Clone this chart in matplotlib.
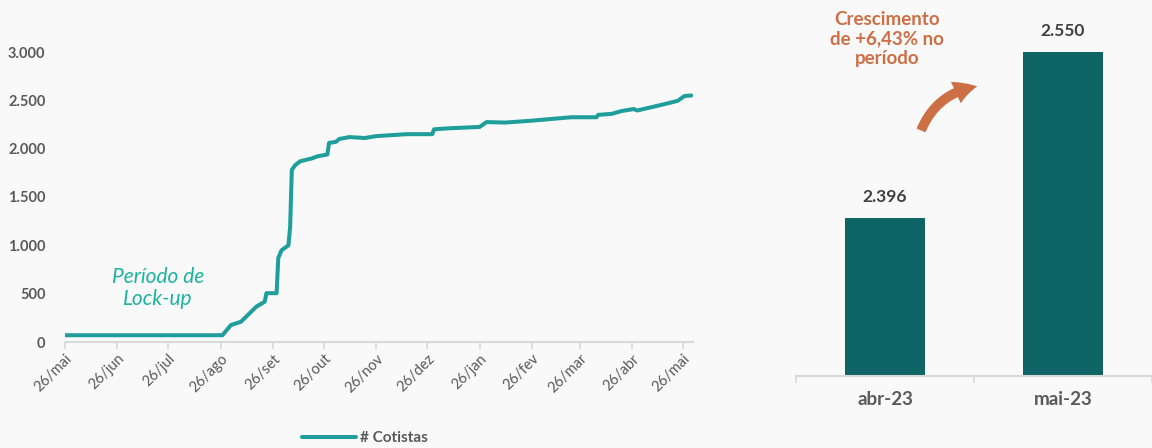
import pandas as pd
import numpy as np
import matplotlib.pyplot as plt
from matplotlib.patches import FancyArrowPatch

plt.rcParams['font.family'] = ['Lato', 'DejaVu Sans']

# data
dates = ["2022-05-26", "2022-08-27", "2022-09-01", "2022-09-07", "2022-09-10", "2022-09-16",
         "2022-09-21", "2022-09-22", "2022-09-28", "2022-09-29", "2022-10-01", "2022-10-05",
         "2022-10-06", "2022-10-07", "2022-10-09", "2022-10-12", "2022-10-19", "2022-10-22",
         "2022-10-28", "2022-10-29", "2022-11-02", "2022-11-04", "2022-11-10", "2022-11-19",
         "2022-11-26", "2022-12-14", "2022-12-29", "2022-12-30", "2023-01-07", "2023-01-26",
         "2023-01-30", "2023-02-10", "2023-02-26", "2023-03-21", "2023-04-05", "2023-04-06",
         "2023-04-14", "2023-04-20", "2023-04-27", "2023-04-29", "2023-05-04", "2023-05-15",
         "2023-05-23", "2023-05-27", "2023-05-31"]
cotistas = [70, 70, 175, 210, 262, 365,
            417, 505, 505, 870, 950, 1000,
            1190, 1780, 1830, 1870, 1900, 1920,
            1940, 2060, 2070, 2100, 2120, 2110,
            2130, 2150, 2150, 2200, 2210, 2225,
            2275, 2270, 2290, 2325, 2325, 2350,
            2360, 2390, 2410, 2395, 2415, 2460,
            2495, 2545, 2550]
tick_dates = ["2022-05-26", "2022-06-26", "2022-07-26", "2022-08-26", "2022-09-26", "2022-10-26",
              "2022-11-26", "2022-12-26", "2023-01-26", "2023-02-26", "2023-03-26", "2023-04-26",
              "2023-05-26"]
tick_labels = ["26/mai", "26/jun", "26/jul", "26/ago", "26/set", "26/out", "26/nov",
               "26/dez", "26/jan", "26/fev", "26/mar", "26/abr", "26/mai"]
y_ticks = [0, 500, 1000, 1500, 2000, 2500, 3000]
y_labels = ["0", "500", "1.000", "1.500", "2.000", "2.500", "3.000"]

meses = ["abr-23", "mai-23"]
totais = [2396, 2550]
totais_txt = ["2.396", "2.550"]

bg = "#f9f9f9"
teal = "#1f9e9b"
dark_teal = "#0f6566"
orange = "#cd6f45"
grey = "#595959"

fig = plt.figure(figsize=(11.52, 4.48), dpi=100, facecolor=bg)

# ---- left: line chart
ax = fig.add_axes([65/1152, 106/448, 628/1152, 290/448], facecolor=bg)
x = pd.to_datetime(dates)
ax.plot(x, cotistas, color=teal, lw=2.9, solid_capstyle="round", label="# Cotistas")
ax.set_ylim(0, 3000)
ax.set_xlim(pd.Timestamp("2022-05-26"), pd.Timestamp("2023-06-01"))
ax.set_yticks(y_ticks)
ax.set_yticklabels(y_labels, fontsize=10.5, fontweight="bold", color=grey)
ax.tick_params(axis="y", length=0, pad=14)
ax.set_xticks(pd.to_datetime(tick_dates))
ax.set_xticklabels(tick_labels, rotation=45, ha="right", rotation_mode="anchor",
                   fontsize=10.5, color=grey)
ax.tick_params(axis="x", length=5, color="#d9d9d9", width=1.2, pad=2)
for s in ["top", "right", "left"]:
    ax.spines[s].set_visible(False)
ax.spines["bottom"].set_color("#d9d9d9")
ax.spines["bottom"].set_linewidth(1.5)
ax.text(pd.Timestamp("2022-07-20"), 560, "Período de\nLock-up", color="#1db3a0",
        fontsize=15, fontstyle="italic", ha="center", va="center", linespacing=1.15)

fig.legend(loc="center", bbox_to_anchor=(365/1152, 10/448), frameon=False,
           prop={"weight": "bold", "size": 11}, labelcolor=grey,
           handlelength=3.5, handletextpad=0.3)

# ---- right: bar chart
ax2 = fig.add_axes([796/1152, 72/448, 356/1152, 356/448], facecolor=bg)
pos = np.arange(len(meses))
base = 2250
ax2.bar(pos, [v - base for v in totais], bottom=base, width=0.45, color=dark_teal)
ax2.set_xlim(-0.5, 1.5)
ax2.set_ylim(base, base + 356/1.08)
for p, v, t in zip(pos, totais, totais_txt):
    ax2.text(p, v + 12, t, ha="center", va="bottom", fontsize=12.5,
             fontweight="bold", color="#404040")
ax2.set_xticks([-0.5, 0.5, 1.5])
ax2.set_xticklabels([])
ax2.set_xticks(pos, minor=True)
ax2.set_xticklabels(meses, minor=True, fontsize=13.5, fontweight="bold", color=grey)
ax2.tick_params(axis="x", which="major", length=5, color="#d9d9d9", width=1.2)
ax2.tick_params(axis="x", which="minor", length=0, pad=11)
ax2.set_yticks([])
for s in ["top", "right", "left"]:
    ax2.spines[s].set_visible(False)
ax2.spines["bottom"].set_color("#d9d9d9")
ax2.spines["bottom"].set_linewidth(1.5)

fig.text(887/1152, 1 - 39/448, "Crescimento\nde +6,43% no\nperíodo", color=orange,
         fontsize=13.5, fontweight="bold", ha="center", va="center", linespacing=1.15)
arrow = FancyArrowPatch((920/1152, 1 - 133/448), (980/1152, 1 - 86/448),
                        transform=fig.transFigure, connectionstyle="arc3,rad=-0.3",
                        arrowstyle="simple,head_length=16,head_width=17,tail_width=7",
                        color=orange, lw=0)
fig.patches.append(arrow)

fig.savefig("out.png", dpi=100, facecolor=bg)
